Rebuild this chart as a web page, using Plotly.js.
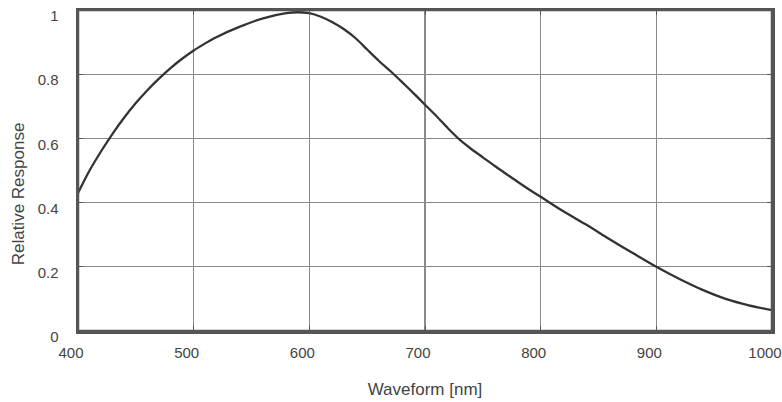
<!DOCTYPE html>
<html><head><meta charset="utf-8">
<script src="https://cdn.plot.ly/plotly-3.0.1.min.js"></script>
<style>html,body{margin:0;padding:0;background:#fff}#chart{width:782px;height:402px}</style>
</head><body><div id="chart"></div>
<script>
const wavelength = [400,410,420,430,440,450,460,470,480,490,500,510,520,540,560,580,590,600,610,620,630,640,650,660,670,680,690,700,710,720,730,740,750,760,770,780,790,800,820,840,860,880,900,920,940,960,980,1000];
const response   = [0.43,0.50,0.56,0.615,0.665,0.71,0.75,0.786,0.819,0.848,0.874,0.896,0.916,0.948,0.974,0.99,0.993,0.99,0.979,0.962,0.94,0.912,0.877,0.842,0.81,0.776,0.741,0.705,0.669,0.631,0.596,0.567,0.541,0.515,0.49,0.465,0.441,0.418,0.372,0.33,0.285,0.242,0.2,0.162,0.128,0.1,0.08,0.065];
const xTicks = [400,500,600,700,800,900,1000];
const yTicks = [0,0.2,0.4,0.6,0.8,1];
const yTickText = ['0','0.2','0.4','0.6','0.8','1'];

const font = {family:'Liberation Sans, Arial, sans-serif', color:'#444'};
Plotly.newPlot('chart', [{
  x: wavelength, y: response, type:'scatter', mode:'lines',
  line:{color:'#333', width:2.3, shape:'spline', smoothing:0.8},
  hoverinfo:'skip'
}], {
  width:782, height:402,
  margin:{l:78, r:10, t:10, b:71},
  paper_bgcolor:'#fff', plot_bgcolor:'#fff',
  showlegend:false,
  font: Object.assign({size:15}, font),
  xaxis:{range:[400,1000], tickvals:xTicks, ticktext:xTicks.map(String),
    showgrid:true, gridcolor:'#8a8a8a', gridwidth:1.2,
    showline:true, mirror:'ticks', linecolor:'#555', linewidth:2.5,
    ticks:'inside', ticklen:5, tickcolor:'#555',
    ticklabelshift:-7, ticklabelstandoff:6,
    tickfont:Object.assign({size:15}, font),
    zeroline:false,
    title:{text:'Waveform [nm]', font:Object.assign({size:17}, font), standoff:24}},
  yaxis:{range:[0,1], tickvals:yTicks, ticktext:yTickText,
    showgrid:true, gridcolor:'#8a8a8a', gridwidth:1.2,
    showline:true, mirror:'ticks', linecolor:'#555', linewidth:2.5,
    ticks:'inside', ticklen:5, tickcolor:'#555',
    ticklabelshift:6, ticklabelstandoff:14,
    tickfont:Object.assign({size:15}, font),
    zeroline:false},
  shapes:[{type:'rect', xref:'paper', yref:'paper', x0:0, x1:1, y0:0, y1:1,
    line:{color:'#555', width:2.5}, fillcolor:'rgba(0,0,0,0)', layer:'above'}],
  annotations:[{text:'Relative Response', textangle:-90, xref:'paper', yref:'paper',
    x:-0.086, y:(331-194)/321, xanchor:'center', yanchor:'middle', showarrow:false,
    font:Object.assign({size:17}, font)}]
}, {staticPlot:true});
</script></body></html>
